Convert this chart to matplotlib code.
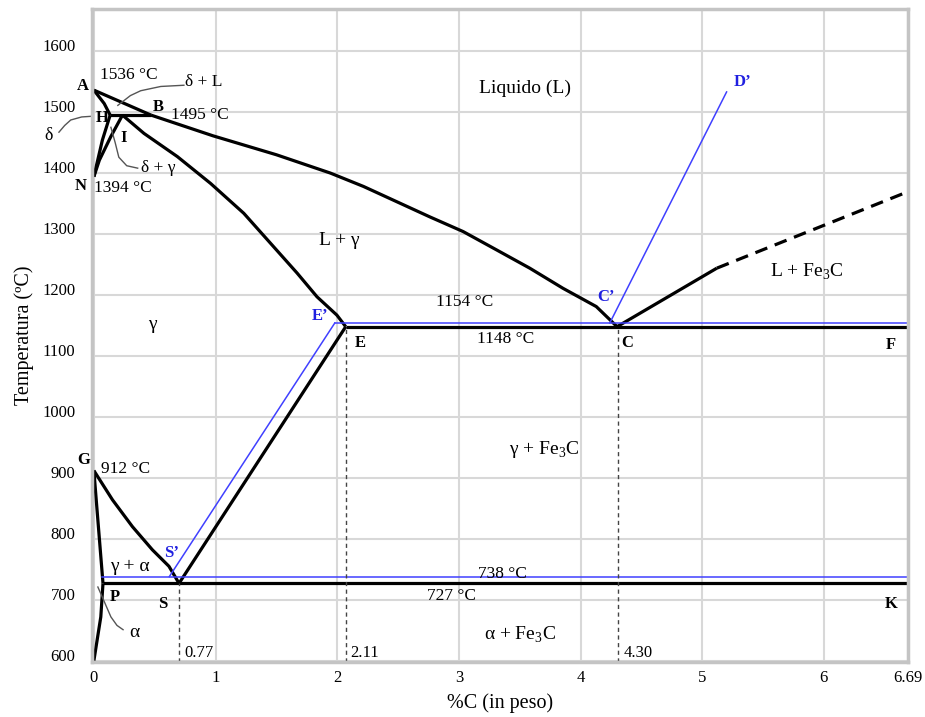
import numpy as np
import matplotlib.pyplot as plt
import matplotlib.transforms as mtransforms

plt.rcParams['font.family'] = ['Liberation Serif', 'DejaVu Serif']
plt.rcParams['mathtext.fontset'] = 'custom'
plt.rcParams['mathtext.rm'] = 'Liberation Serif'

# --- phase boundaries (x = %C, y = deg C) ---
liq_AB_x = [0.0, 0.47]
liq_AB_y = [1536, 1495]
liq_BC_x = [0.47, 0.98, 1.5, 1.943, 2.216, 2.489, 2.762, 3.035, 3.309, 3.582, 3.855, 4.129, 4.30]
liq_BC_y = [1495, 1461, 1430, 1400, 1378, 1353, 1328, 1304, 1274, 1244, 1211, 1181, 1148]
sol_AH_x = [0.0, 0.085, 0.134]
sol_AH_y = [1536, 1514, 1495]
HN_x = [0.134, 0.07, 0.0]
HN_y = [1495, 1454, 1394]
IN_x = [0.235, 0.14, 0.045, 0.0]
IN_y = [1495, 1460, 1421, 1394]
HB_x = [0.134, 0.47]
HB_y = [1495, 1495]
IE_x = [0.235, 0.412, 0.686, 0.959, 1.232, 1.451, 1.67, 1.834, 1.997, 2.07]
IE_y = [1495, 1465, 1427, 1383, 1334, 1285, 1236, 1197, 1167, 1148]
ES_x = [2.07, 0.70]
ES_y = [1148, 727]
GS_x = [0.0, 0.153, 0.317, 0.481, 0.617, 0.70]
GS_y = [912, 864, 820, 782, 755, 727]
GP_x = [0.0, 0.075]
GP_y = [912, 727]
P_bottom_x = [0.075, 0.057, 0.0]
P_bottom_y = [727, 672, 600]
eutectic_x = [2.07, 6.69]
eutectic_y = [1148, 1148]
eutectoid_x = [0.075, 6.69]
eutectoid_y = [727, 727]
CD_solid_x = [4.30, 5.12]
CD_solid_y = [1148, 1244]
CD_dash_x = [5.12, 6.66]
CD_dash_y = [1244, 1367]

# metastable (blue) lines
blue_ES_x = [1.98, 0.62]
blue_ES_y = [1154, 738]
blue_1154_x = [1.98, 6.69]
blue_1154_y = [1154, 1154]
blue_738_x = [0.07, 6.69]
blue_738_y = [738, 738]
blue_CD_x = [4.24, 5.2]
blue_CD_y = [1154, 1533]

# composition markers
marker_x = [0.70, 2.07, 4.31]
marker_top = [727, 1148, 1148]
marker_labels = ['0.77', '2.11', '4.30']

xticks = [0, 1, 2, 3, 4, 5, 6, 6.69]
xtick_labels = ['0', '1', '2', '3', '4', '5', '6', '6.69']
yticks = [600, 700, 800, 900, 1000, 1100, 1200, 1300, 1400, 1500, 1600]

fig = plt.figure(figsize=(9.25, 7.17), dpi=100)
ax = fig.add_axes([0.0995, 0.0767, 0.882, 0.9107])
ax.set_xlim(-0.015, 6.69)
ax.set_ylim(598, 1669)

black = dict(color='black', lw=2.3, solid_capstyle='butt', solid_joinstyle='round')
for xs, ys in [(liq_AB_x, liq_AB_y), (liq_BC_x, liq_BC_y), (sol_AH_x, sol_AH_y),
               (HN_x, HN_y), (IN_x, IN_y), (HB_x, HB_y), (IE_x, IE_y), (ES_x, ES_y),
               (GS_x, GS_y), (GP_x, GP_y), (P_bottom_x, P_bottom_y),
               (eutectic_x, eutectic_y), (eutectoid_x, eutectoid_y),
               (CD_solid_x, CD_solid_y)]:
    ax.plot(xs, ys, **black)
ax.plot(CD_dash_x, CD_dash_y, color='black', lw=2.3, ls=(0, (4, 2.5)))

blue = '#4040ff'
for xs, ys in [(blue_ES_x, blue_ES_y), (blue_1154_x, blue_1154_y),
               (blue_738_x, blue_738_y), (blue_CD_x, blue_CD_y)]:
    ax.plot(xs, ys, color=blue, lw=1.1)

for x, top, lab in zip(marker_x, marker_top, marker_labels):
    ax.plot([x, x], [598, top], color='#444444', lw=1.0, ls=(0, (3, 2.5)))
    ax.text(x + 0.04, 612, lab, fontsize=12, ha='left', va='center')

# leader curves for small regions
gray = '#555555'
ax.plot([0.197, 0.30, 0.385, 0.55, 0.74], [1511, 1527, 1535, 1542, 1544], color=gray, lw=1.0)
ax.plot([-0.287, -0.24, -0.19, -0.10, -0.025], [1467, 1478, 1487, 1492, 1493],
        color=gray, lw=1.0, clip_on=False)
ax.plot([0.14, 0.175, 0.205, 0.27, 0.36], [1475, 1450, 1426, 1412, 1408], color=gray, lw=1.0)
ax.plot([0.033, 0.09, 0.14, 0.19, 0.24], [721, 695, 672, 658, 651], color=gray, lw=1.0)

# temperatures and small labels
small = [
    (0.05, 1560, '1536 °C', 'left'), (0.75, 1549, 'δ + L', 'left'),
    (0.63, 1496, '1495 °C', 'left'), (0.385, 1408, 'δ + γ', 'left'),
    (0.0, 1375, '1394 °C', 'left'), (3.05, 1188, '1154 °C', 'center'),
    (3.38, 1128, '1148 °C', 'center'), (0.06, 915, '912 °C', 'left'),
    (3.36, 743, '738 °C', 'center'), (2.94, 707, '727 °C', 'center'),
]
for x, y, s, ha in small:
    ax.text(x, y, s, fontsize=12.5, ha=ha, va='center')
ax.text(-0.37, 1462, 'δ', fontsize=13, ha='center', va='center', clip_on=False)

# phase-field labels
fields = [
    (3.54, 1539, 'Liquido (L)'), (2.02, 1290, 'L + γ'), (5.86, 1238, 'L + Fe$_3$C'),
    (0.48, 1151, 'γ'), (3.7, 946, 'γ + Fe$_3$C'), (0.30, 755, 'γ + α'),
    (3.5, 642, 'α + Fe$_3$C'),
]
for x, y, s in fields:
    ax.text(x, y, s, fontsize=14, ha='center', va='center')
ax.text(0.29, 646, 'α', fontsize=14, ha='left', va='center')

bold = [
    (-0.09, 1542, 'A'), (0.53, 1508, 'B'), (0.07, 1491, 'H'), (0.245, 1457, 'I'),
    (-0.11, 1378, 'N'), (2.19, 1122, 'E'), (4.38, 1122, 'C'), (6.55, 1118, 'F'),
    (-0.08, 930, 'G'), (0.17, 705, 'P'), (0.57, 693, 'S'), (6.55, 693, 'K'),
]
for x, y, s in bold:
    ax.text(x, y, s, fontsize=12, fontweight='bold', ha='center', va='center', clip_on=False)
blue_lab = [(1.86, 1166, "E’"), (4.21, 1196, "C’"), (5.33, 1550, "D’"), (0.64, 777, "S’")]
for x, y, s in blue_lab:
    ax.text(x, y, s, fontsize=12, fontweight='bold', color='#2020e0', ha='center', va='center')

ax.set_xticks(xticks)
ax.set_xticklabels(xtick_labels)
ax.set_yticks(yticks)
ax.tick_params(length=0, labelsize=12)
ax.tick_params(axis='y', pad=12)
ax.tick_params(axis='x', pad=6)
shift = mtransforms.ScaledTranslation(0, 0.06, fig.dpi_scale_trans)
for lab in ax.get_yticklabels():
    lab.set_transform(lab.get_transform() + shift)
ax.grid(True, color='#d8d8d8', lw=1.5)
ax.set_axisbelow(True)
for sp in ax.spines.values():
    sp.set_color('#c4c4c4')
    sp.set_linewidth(2.5)
ax.set_xlabel('%C (in peso)', fontsize=14.5, labelpad=5)
ax.set_ylabel('Temperatura (ºC)', fontsize=14.5, labelpad=6)

fig.savefig('out.png', dpi=100)
